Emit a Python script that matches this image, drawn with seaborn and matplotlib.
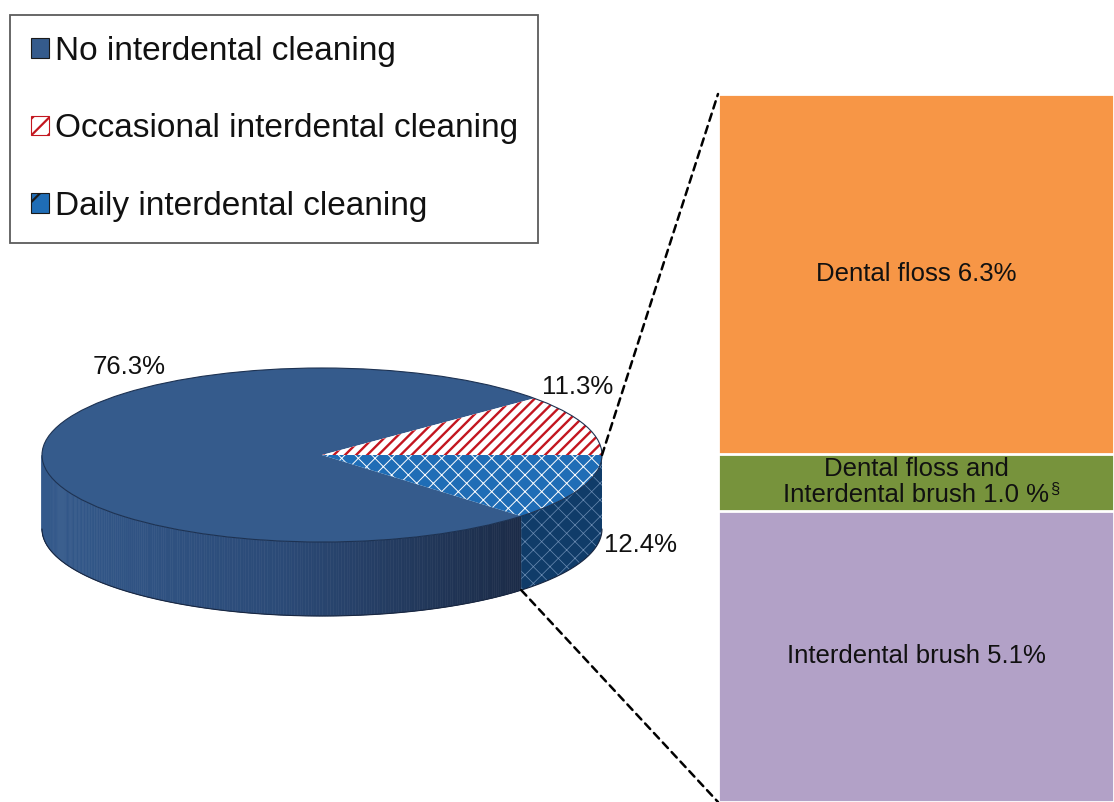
import numpy as np
import matplotlib
matplotlib.use("Agg")
import matplotlib.pyplot as plt
import seaborn as sns
from matplotlib.patches import Patch, Circle, Polygon, ConnectionPatch
from matplotlib.collections import PolyCollection
from matplotlib.colors import LinearSegmentedColormap

# ---- data -------------------------------------------------------------
categories = ["No interdental cleaning",
              "Occasional interdental cleaning",
              "Daily interdental cleaning"]
shares = [76.3, 11.3, 12.4]

segment_labels = ["Dental floss",
                  "Dental floss and\nInterdental brush",
                  "Interdental brush"]
segment_values = [6.3, 1.0, 5.1]
segment_formats = ["{:.1f}%", "{:.1f} %", "{:.1f}%"]
segment_notes = ["", "\u00a7", ""]

# ---- style ------------------------------------------------------------
sns.set_theme(style="white")
plt.rcParams["font.family"] = ["Liberation Sans", "DejaVu Sans"]
plt.rcParams["hatch.linewidth"] = 1.6

top_colors = ["#355b8c", "#ffffff", "#1f6db6"]
hatch_specs = [None, ("///", "#c3161f", 1.7), ("xx", "#ffffff", 0.7)]
segment_colors = ["#f79646", "#77933c", "#b2a1c7"]

W, H = 1114, 802
fig = plt.figure(figsize=(W / 100, H / 100), dpi=100)


def px_axes(x0, y0, x1, y1):
    return fig.add_axes([x0 / W, 1 - y1 / H, (x1 - x0) / W, (y1 - y0) / H])


# ---- 3-D looking pie ----------------------------------------------------
CX, CY, RX, RY, DEPTH = 322, 455, 280, 87, 74
D = DEPTH / RY
XL, YL = (-1.15, 1.15), (-1.95, 1.15)
axp = px_axes(CX + XL[0] * RX, CY - YL[1] * RY, CX + XL[1] * RX, CY - YL[0] * RY)

wedges, _ = axp.pie(shares, startangle=3.6 * (shares[0] + shares[1]),
                    counterclock=False, colors=top_colors,
                    wedgeprops=dict(linewidth=0))
for w, spec in zip(wedges, hatch_specs):
    w.set_zorder(3)
    if spec:
        w.set_hatch(spec[0])
        w.set_edgecolor(spec[1])
        w.set_linewidth(0)
        try:
            w.set_hatch_linewidth(spec[2])
        except AttributeError:
            pass
axp.set_aspect("auto")
axp.set_xlim(XL)
axp.set_ylim(YL)
axp.axis("off")


def front_ranges(t1, t2):
    out = []
    for s in (-360, 0, 360):
        a, b = max(t1 + s, 180), min(t2 + s, 360)
        if b > a:
            out.append((a, b))
    return out


side_cmap = LinearSegmentedColormap.from_list(
    "side", ["#33598b", "#2b4a77", "#1b2b47"])

# side of the "no cleaning" slice, shaded from left to right
for a, b in front_ranges(wedges[0].theta1, wedges[0].theta2):
    t = np.radians(np.linspace(a, b, 240))
    quads, cols = [], []
    for i in range(len(t) - 1):
        x0, x1 = np.cos(t[i]), np.cos(t[i + 1])
        y0, y1 = np.sin(t[i]), np.sin(t[i + 1])
        quads.append([(x0, y0), (x1, y1), (x1, y1 - D), (x0, y0 - D)])
        cols.append(side_cmap((0.5 * (x0 + x1) + 1) / (np.cos(t[-1]) + 1)))
    axp.add_collection(PolyCollection(quads, facecolors=cols, edgecolors=cols,
                                      linewidths=0.4, zorder=2))

# side of the "daily" slice
for a, b in front_ranges(wedges[2].theta1, wedges[2].theta2):
    t = np.radians(np.linspace(a, b, 80))
    pts = np.r_[np.c_[np.cos(t), np.sin(t)],
                np.c_[np.cos(t[::-1]), np.sin(t[::-1]) - D]]
    side = Polygon(pts, closed=True, facecolor="#103c69",
                   edgecolor="#6b8cb3", hatch="xx", linewidth=0, zorder=2)
    try:
        side.set_hatch_linewidth(0.5)
    except AttributeError:
        pass
    axp.add_patch(side)

# rim lines
axp.add_patch(Circle((0, 0), 1, fill=False, edgecolor="#1d3252",
                     linewidth=0.8, zorder=4))
tb = np.radians(np.linspace(180, 360, 200))
axp.plot(np.cos(tb), np.sin(tb) - D, color="#182640", lw=0.8, zorder=4)

# percentage labels
label_pos = [(-0.69, 1.01), (0.914, 0.78), (1.136, -1.03)]
for v, (x, y) in zip(shares, label_pos):
    axp.text(x, y, f"{v:.1f}%", ha="center", va="center", fontsize=18.5,
             color="#111111", zorder=5)

# ---- stacked bar of the daily slice ----------------------------------
axb = px_axes(718, 94, W, H)
total = sum(segment_values)
bottoms = [sum(segment_values[i + 1:]) for i in range(len(segment_values))]
tops = [b + v for b, v in zip(bottoms, segment_values)]
for top, col in zip(tops, segment_colors):
    sns.barplot(x=["mix"], y=[top], color=col, saturation=1, width=1,
                edgecolor="white", linewidth=2.0, ax=axb)
axb.set_xlim(-0.5, 0.5)
axb.set_ylim(0, total)
axb.axis("off")

for lab, v, fmt, note, b in zip(segment_labels, segment_values,
                                segment_formats, segment_notes, bottoms):
    txt = axb.text(0, b + v / 2, f"{lab} {fmt.format(v)}", ha="center",
                   va="center", fontsize=18.5, color="#111111",
                   linespacing=1.12, zorder=5)
    if note:
        axb.annotate(note, xy=(1.0, 0.36), xycoords=txt, xytext=(1, 0),
                     textcoords="offset points", ha="left", va="center",
                     fontsize=12, color="#111111", zorder=5)

# dashed leader lines from the pie to the bar
t_up = np.radians(wedges[1].theta1)
t_lo = np.radians(wedges[2].theta1)
for xyA, xyB in [((np.cos(t_up), np.sin(t_up)), (-0.5, total)),
                 ((np.cos(t_lo), np.sin(t_lo) - D), (-0.5, 0))]:
    con = ConnectionPatch(xyA=xyA, coordsA=axp.transData, xyB=xyB,
                          coordsB=axb.transData, color="black", lw=1.8,
                          linestyle=(0, (3.0, 2.2)), zorder=6)
    fig.add_artist(con)

# ---- legend -------------------------------------------------------------
handles = [
    Patch(facecolor=top_colors[0], edgecolor="#1a1a1a", linewidth=0.8),
    Patch(facecolor="white", edgecolor="#c3161f", hatch="//", linewidth=0.8),
    Patch(facecolor=top_colors[2], edgecolor="#1a1a1a", hatch="/",
          linewidth=0.8),
]
leg = fig.legend(handles, categories, loc="upper left",
                 bbox_to_anchor=(10 / W, 1 - 15 / H),
                 bbox_transform=fig.transFigure, fontsize=24, frameon=True,
                 fancybox=False, edgecolor="#333333", borderpad=0.62,
                 labelspacing=1.4, handlelength=0.54, handleheight=0.54,
                 handletextpad=0.18, borderaxespad=0)
leg.get_frame().set_linewidth(1.3)
for t in leg.get_texts():
    t.set_color("#111111")

fig.savefig("out.png", dpi=100, facecolor="white")
